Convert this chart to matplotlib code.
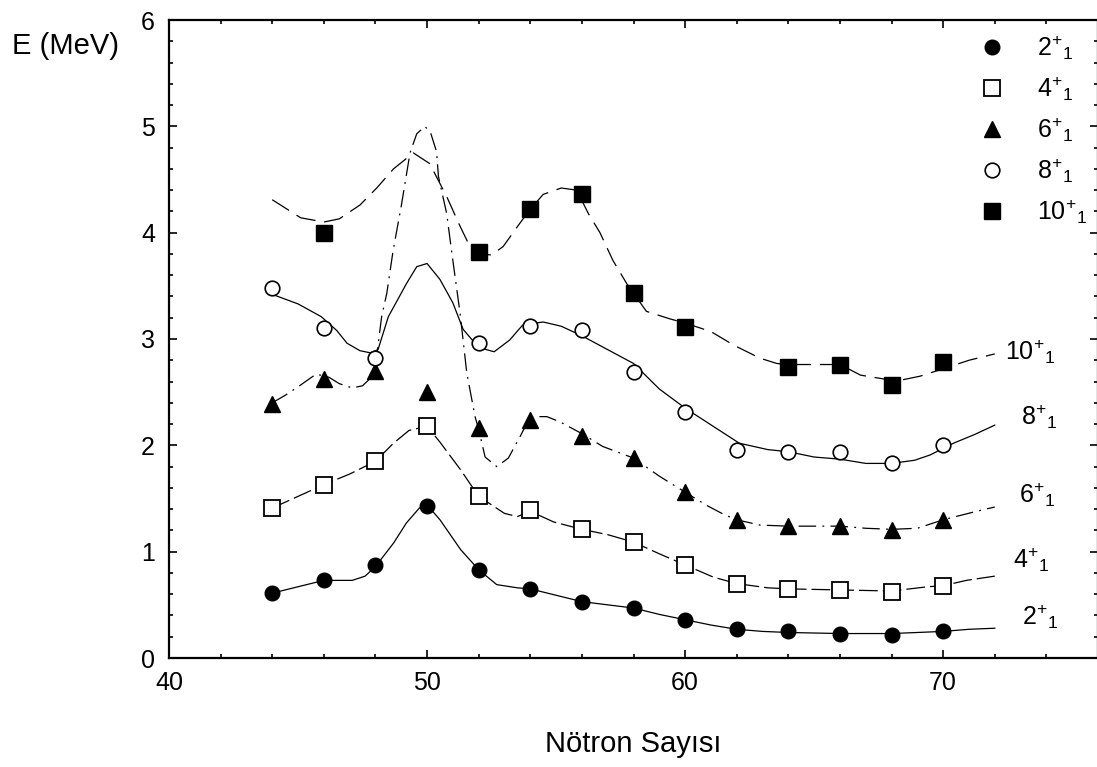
import matplotlib
matplotlib.use("Agg")
import matplotlib.pyplot as plt
from matplotlib.lines import Line2D
from matplotlib.ticker import MultipleLocator

plt.rcParams['font.family'] = ['Liberation Sans', 'DejaVu Sans']
plt.rcParams['mathtext.default'] = 'regular'

# Measured level energies (MeV) versus neutron number
neutrons = [44, 46, 48, 50, 52, 54, 56, 58, 60, 62, 64, 66, 68, 70]
e_2plus = [0.61, 0.73, 0.875, 1.43, 0.83, 0.65, 0.53, 0.47, 0.36, 0.27, 0.25, 0.23, 0.22, 0.25]
e_4plus = [1.41, 1.63, 1.85, 2.18, 1.52, 1.39, 1.21, 1.09, 0.875, 0.70, 0.65, 0.64, 0.62, 0.68]
e_6plus = [2.39, 2.62, 2.70, 2.50, 2.16, 2.24, 2.09, 1.88, 1.56, 1.30, 1.24, 1.24, 1.20, 1.30]
neutrons_8 = [44, 46, 48, 52, 54, 56, 58, 60, 62, 64, 66, 68, 70]
e_8plus = [3.48, 3.10, 2.82, 2.96, 3.12, 3.08, 2.69, 2.31, 1.96, 1.94, 1.94, 1.83, 2.00]
neutrons_10 = [46, 52, 54, 56, 58, 60, 64, 66, 68, 70]
e_10plus = [4.00, 3.82, 4.22, 4.36, 3.43, 3.11, 2.74, 2.76, 2.57, 2.78]

# Calculated trend curves
calc_n_2 = [44, 45, 46, 47.1, 47.6, 48, 48.7, 49.2, 49.7, 50, 50.5, 51.3, 52, 52.7, 53.5, 54, 55,
            56, 57, 58, 59, 60, 61, 62, 63, 64, 66, 68, 69, 70, 71, 72]
calc_e_2 = [0.61, 0.67, 0.73, 0.73, 0.77, 0.86, 1.08, 1.27, 1.41, 1.44, 1.30, 1.02, 0.83, 0.69, 0.66,
            0.65, 0.59, 0.53, 0.50, 0.47, 0.41, 0.36, 0.31, 0.27, 0.25, 0.24, 0.23, 0.23, 0.24, 0.25,
            0.27, 0.28]

calc_n_4 = [44, 45, 46, 47, 48, 48.7, 49.3, 50, 50.5, 51.3, 52, 52.5, 53, 53.5, 54, 54.9, 56, 57,
            58, 59, 60, 61.1, 62, 63.2, 64, 66, 68, 69.4, 70, 70.9, 72]
calc_e_4 = [1.41, 1.52, 1.63, 1.73, 1.85, 2.02, 2.14, 2.18, 2.03, 1.77, 1.52, 1.44, 1.36, 1.33,
            1.38, 1.28, 1.21, 1.16, 1.09, 0.98, 0.875, 0.76, 0.70, 0.66, 0.65, 0.64, 0.63, 0.67,
            0.68, 0.73, 0.77]

calc_n_6 = [44, 44.5, 45, 45.7, 46.2, 46.6, 47.1, 47.5, 47.8, 48, 48.24, 48.44, 48.69, 49.0, 49.34,
            49.6, 49.92, 50.15, 50.37, 50.44, 50.76, 50.96, 51.28, 51.54, 51.86, 52, 52.25, 52.7,
            53.15, 53.6, 54, 54.64, 55.16, 56, 56.8, 58, 59, 60, 60.8, 61.5, 62, 62.9, 64, 66, 67,
            68, 69, 70, 71.3, 72]
calc_e_6 = [2.40, 2.47, 2.55, 2.67, 2.64, 2.58, 2.54, 2.56, 2.63, 2.75, 3.21, 3.43, 3.84, 4.25,
            4.75, 4.93, 5.00, 4.93, 4.76, 4.53, 4.18, 3.81, 3.24, 2.68, 2.27, 2.15, 1.89, 1.80,
            1.88, 2.08, 2.27, 2.27, 2.22, 2.11, 1.99, 1.88, 1.71, 1.56, 1.44, 1.35, 1.30, 1.25,
            1.24, 1.24, 1.22, 1.21, 1.22, 1.30, 1.38, 1.42]

calc_n_8 = [44, 45, 45.9, 46.5, 46.9, 47.4, 47.8, 48.1, 48.5, 49.2, 49.6, 50, 50.5, 51, 51.4, 52,
            52.6, 53.2, 53.7, 54.5, 55.2, 56, 57, 58, 59, 60, 61.4, 62.1, 63.2, 64, 65, 66, 67, 68,
            68.9, 69.5, 70.4, 71.2, 72]
calc_e_8 = [3.42, 3.33, 3.21, 3.08, 2.96, 2.89, 2.87, 2.90, 3.21, 3.52, 3.68, 3.71, 3.56, 3.34,
            3.09, 2.92, 2.88, 2.99, 3.13, 3.16, 3.12, 3.03, 2.90, 2.77, 2.53, 2.35, 2.13, 2.02,
            1.96, 1.94, 1.89, 1.87, 1.83, 1.83, 1.86, 1.91, 2.02, 2.10, 2.19]

calc_n_10 = [44, 45.1, 46, 46.6, 47.4, 48.05, 48.7, 49.47, 50.1, 50.76, 51.28, 51.6, 52.05, 52.5,
             52.95, 53.6, 54, 54.5, 55.2, 55.8, 56.25, 56.7, 57.2, 57.74, 58.5, 59.4, 60, 61,
             61.9, 62.9, 63.55, 64, 66, 66.8, 67.8, 68.3, 69.1, 70, 71, 72]
calc_e_10 = [4.31, 4.14, 4.10, 4.13, 4.26, 4.42, 4.60, 4.75, 4.65, 4.34, 4.06, 3.90, 3.80, 3.79,
             3.87, 4.09, 4.22, 4.36, 4.42, 4.40, 4.18, 4.00, 3.74, 3.52, 3.26, 3.19, 3.15, 3.07,
             2.94, 2.82, 2.77, 2.76, 2.76, 2.66, 2.62, 2.61, 2.65, 2.72, 2.80, 2.86]

state_labels = [r"$2^{+}{}_{1}$", r"$4^{+}{}_{1}$", r"$6^{+}{}_{1}$", r"$8^{+}{}_{1}$", r"$10^{+}{}_{1}$"]

# Where each curve label sits at the right end of its curve (x, baseline y)
curve_label_x = [73.05, 72.7, 72.95, 73.0, 72.4]
curve_label_y = [0.31, 0.85, 1.46, 2.19, 2.80]

fig = plt.figure(figsize=(10.97, 7.67), dpi=100)
ax = fig.add_axes([169 / 1097, 1 - 658 / 767, (1098 - 169) / 1097, (658 - 20) / 767])

lw = 0.9
ax.plot(calc_n_2, calc_e_2, color='black', lw=lw, ls='-')
ax.plot(calc_n_4, calc_e_4, color='black', lw=lw, ls=(0, (15, 4)))
ax.plot(calc_n_6, calc_e_6, color='black', lw=lw, ls=(0, (14, 5, 1.5, 5)))
ax.plot(calc_n_8, calc_e_8, color='black', lw=lw, ls='-')
ax.plot(calc_n_10, calc_e_10, color='black', lw=lw, ls=(0, (16, 7)))

marker_styles = [
    dict(marker='o', ms=10.5, mfc='black', mec='black', mew=1.0),
    dict(marker='s', ms=11, mfc='white', mec='black', mew=1.3),
    dict(marker='^', ms=12, mfc='black', mec='black', mew=1.0),
    dict(marker='o', ms=10.5, mfc='white', mec='black', mew=1.2),
    dict(marker='s', ms=11, mfc='black', mec='black', mew=1.0),
]
series = [(neutrons, e_2plus), (neutrons, e_4plus), (neutrons, e_6plus),
          (neutrons_8, e_8plus), (neutrons_10, e_10plus)]
for (xs, ys), style in zip(series, marker_styles):
    ax.plot(xs, ys, ls='none', zorder=3, **style)

for lab, lx, ly in zip(state_labels, curve_label_x, curve_label_y):
    ax.text(lx, ly, lab, fontsize=18, ha='left', va='baseline')

handles = [Line2D([], [], ls='none', **style) for style in marker_styles]
ax.legend(handles, state_labels, loc='upper right', bbox_to_anchor=(1.0074, 1.007),
          frameon=False, fontsize=18, handlelength=1.0, handletextpad=1.3,
          labelspacing=0.5, borderpad=0.2)

ax.set_xlim(40, 76)
ax.set_ylim(0, 6)
ax.xaxis.set_major_locator(MultipleLocator(10))
ax.xaxis.set_minor_locator(MultipleLocator(2))
ax.yaxis.set_major_locator(MultipleLocator(1))
ax.yaxis.set_minor_locator(MultipleLocator(0.2))
ax.tick_params(which='both', direction='in', top=True, right=True, width=1.2, labelsize=18)
ax.tick_params(which='major', length=5.5)
ax.tick_params(which='minor', length=3)
ax.tick_params(axis='x', pad=9)
ax.tick_params(axis='y', pad=10)
for sp in ax.spines.values():
    sp.set_linewidth(1.6)

ax.set_xlabel("Nötron Sayısı", fontsize=21, labelpad=25.5)
fig.text(12 / 1097, 1 - 46 / 767, "E (MeV)", fontsize=21, ha='left', va='center')

fig.savefig("out.png", dpi=100, facecolor='white')
